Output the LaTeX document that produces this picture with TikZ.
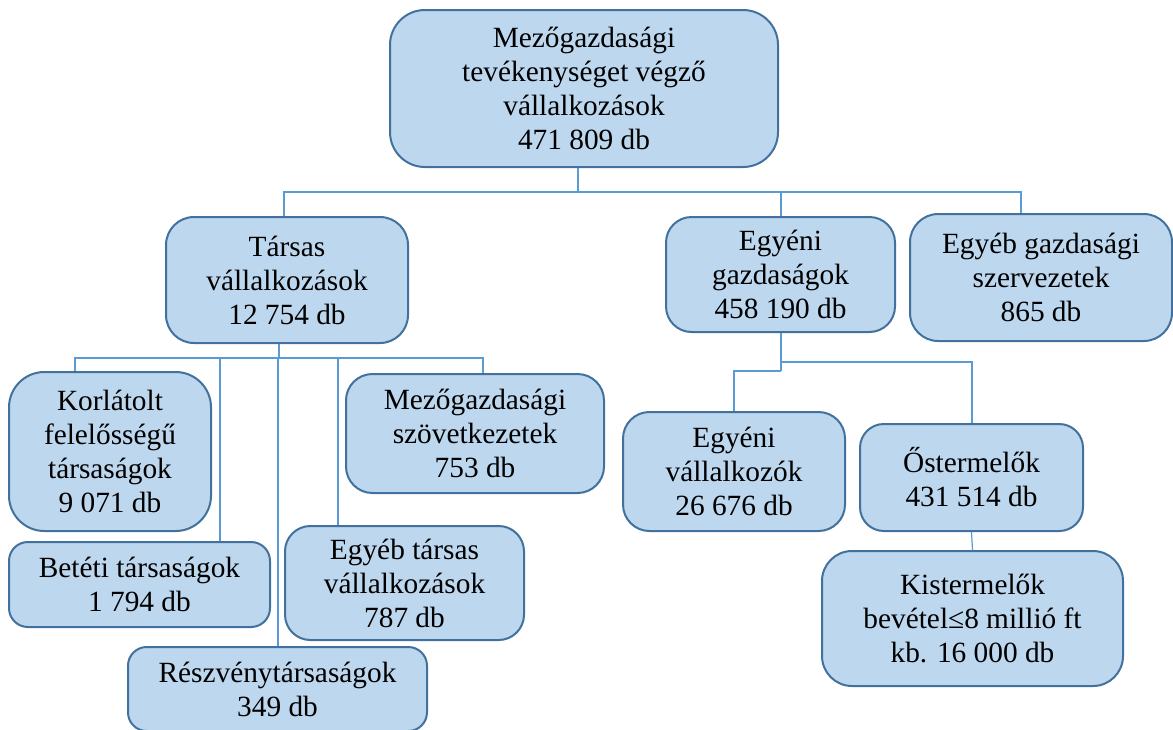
\documentclass[tikz,border=0pt]{standalone}
\usepackage{fontspec}
\setmainfont{Liberation Serif}
\definecolor{keret}{HTML}{41719C}
\definecolor{kitoltes}{HTML}{BDD7EE}
\definecolor{vonalszin}{HTML}{5B9BD5}
\tikzset{doboz/.style={draw=keret, line width=1.5pt, fill=kitoltes, align=center, inner sep=0pt,
    font=\fontsize{22}{25.5}\selectfont},
  vonal/.style={draw=vonalszin, line width=0.9pt},
  vastag/.style={draw=vonalszin, line width=1.6pt}}
\newcommand{\doboz}[6]{\node[doboz, minimum width=#4*0.75pt, minimum height=#5*0.75pt,
  rounded corners={min(#4,#5)*0.1667pt}] (#1) at (#2,#3) {#6};}
\newcommand{\ag}[4]{\draw[#1] (#2) -| (#3,0 |- #4.north);}

\begin{document}
\begin{tikzpicture}[x=0.75pt,y=-0.75pt]
    \useasboundingbox (0,0) rectangle (1173,729);
    \doboz{fo}{584}{88.5}{388}{157}{Mezőgazdasági\\tevékenységet végző\\vállalkozások\\471 809 db}
    \doboz{tarsas}{287}{280}{242}{126}{Társas\\vállalkozások\\12 754 db}
    \doboz{egyeni}{780.5}{274.5}{229}{115}{Egyéni\\gazdaságok\\458 190 db}
    \doboz{egyeb}{1041}{277.5}{262}{127}{Egyéb gazdasági\\szervezetek\\865 db}
    \doboz{kft}{110}{451.5}{202}{159}{Korlátolt\\felelősségű\\társaságok\\9 071 db}
    \doboz{bt}{139.5}{584.5}{261}{85}{Betéti társaságok\\1 794 db}
    \doboz{rt}{277.5}{689}{299}{84}{Részvénytársaságok\\349 db}
    \doboz{egyebtarsas}{404.5}{583}{239}{114}{Egyéb társas\\vállalkozások\\787 db}
    \doboz{szov}{475}{433.5}{258}{119}{Mezőgazdasági\\szövetkezetek\\753 db}
    \doboz{evall}{734}{471.5}{222}{119}{Egyéni\\vállalkozók\\26 676 db}
    \doboz{ost}{971.5}{477.5}{223}{107}{Őstermelők\\431 514 db}
    \doboz{kist}{972.5}{618.5}{301}{135}{Kistermelők\\bevétel≤8 millió ft\\kb. 16 000 db}
    % elagazasi pontok
    \coordinate (j1) at (578,192);
    \coordinate (j2) at (279,358);
    \coordinate (j3) at (781,362);
    \coordinate (j4) at (781,371);
    \draw[vonal] (fo.south -| j1) -- (j1);
    \ag{vonal}{j1}{284}{tarsas}\ag{vonal}{j1}{781}{egyeni}\ag{vonal}{j1}{1021}{egyeb}
    \draw[vastag] (tarsas.south -| j2) -- (j2);
    \ag{vastag}{j2}{75}{kft}\ag{vastag}{j2}{220}{bt}\ag{vastag}{j2}{278}{rt}
    \ag{vastag}{j2}{338}{egyebtarsas}\ag{vastag}{j2}{483}{szov}
    \draw[vonal] (egyeni.south -| j3) -- (j4);
    \ag{vastag}{j3}{972}{ost}\ag{vonal}{j4}{734}{evall}
    \draw[vonal] (ost.south) -- (kist.north);
\end{tikzpicture}
\end{document}
